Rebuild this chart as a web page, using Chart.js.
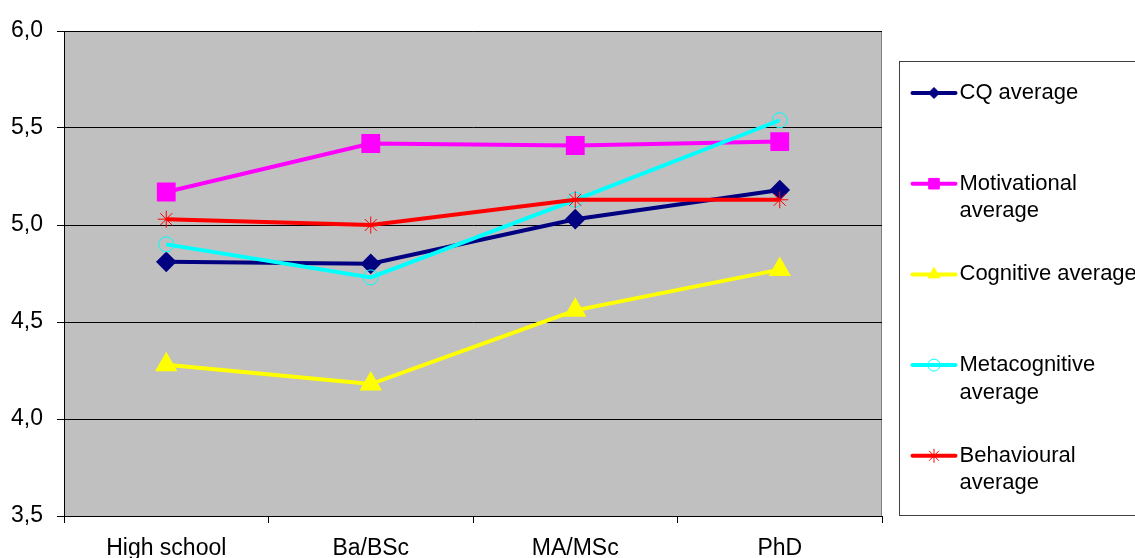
<!DOCTYPE html>
<html>
<head>
<meta charset="utf-8">
<script src="https://cdn.jsdelivr.net/npm/chart.js@4/dist/chart.umd.min.js"></script>
<style>
  html, body { margin: 0; padding: 0; background: #ffffff; }
  #wrap { width: 1135px; height: 558px; overflow: hidden; }
</style>
</head>
<body>
<div id="wrap"><canvas id="c" width="1135" height="558"></canvas></div>
<script>
// Education levels and the average scores per dimension
const categories = ['High school', 'Ba/BSc', 'MA/MSc', 'PhD'];
const cqAverage = [4.81, 4.80, 5.03, 5.18];
const motivationalAverage = [5.17, 5.42, 5.41, 5.43];
const cognitiveAverage = [4.28, 4.18, 4.56, 4.77];
const metacognitiveAverage = [4.90, 4.73, 5.13, 5.54];
const behaviouralAverage = [5.03, 5.00, 5.13, 5.13];
const yTicks = [3.5, 4.0, 4.5, 5.0, 5.5, 6.0];

const FONT = '"Liberation Sans", Arial, sans-serif';

function series(lines, data, color, style, extra) {
  return Object.assign({
    label: lines.join(' '),
    legendLines: lines,
    data: data,
    borderColor: color,
    backgroundColor: color,
    pointBackgroundColor: color,
    pointBorderColor: color,
    borderWidth: 4,
    pointStyle: style,
    pointRadius: 7,
    pointHoverRadius: 7,
    tension: 0,
    fill: false
  }, extra || {});
}

const datasets = [
  series(['CQ average'], cqAverage, '#000080', 'rectRot', { pointRadius: 7.5, legendRadius: 5.5, order: 5 }),
  series(['Motivational', 'average'], motivationalAverage, '#FF00FF', 'rect', { pointRadius: 10.5, legendRadius: 7.5, order: 4 }),
  series(['Cognitive average'], cognitiveAverage, '#FFFF00', 'triangle', { pointRadius: 9, legendRadius: 7, order: 3 }),
  series(['Metacognitive', 'average'], metacognitiveAverage, '#00FFFF', 'circle',
         { pointRadius: 7.5, legendRadius: 6, pointBackgroundColor: 'rgba(0,0,0,0)', pointBorderWidth: 1, order: 2 }),
  series(['Behavioural', 'average'], behaviouralAverage, '#FF0000', 'star',
         { pointRadius: 8.5, legendRadius: 7, pointBorderWidth: 1, order: 1 })
];

// Grey plot area with a thin frame
const plotBackground = {
  id: 'plotBackground',
  beforeDraw(chart) {
    const { ctx, chartArea: a } = chart;
    ctx.save();
    ctx.fillStyle = '#C0C0C0';
    ctx.fillRect(a.left, a.top, a.right - a.left, a.bottom - a.top);
    ctx.strokeStyle = '#808080';
    ctx.lineWidth = 1;
    ctx.strokeRect(a.left + 0.5, a.top + 0.5, a.right - a.left - 1, a.bottom - a.top);
    ctx.restore();
  }
};

// Boxed legend on the right with wrapped labels
const boxLegend = {
  id: 'boxLegend',
  afterDraw(chart) {
    const ctx = chart.ctx;
    const a = chart.chartArea;
    const boxLeft = a.right + 17.5;
    const boxTop = 61.5;
    const boxBottom = 515.5;
    ctx.save();
    ctx.fillStyle = '#ffffff';
    ctx.fillRect(boxLeft, boxTop, 1200 - boxLeft, boxBottom - boxTop);
    ctx.strokeStyle = '#404040';
    ctx.lineWidth = 1;
    ctx.strokeRect(boxLeft, boxTop, 1200 - boxLeft, boxBottom - boxTop);

    const rowStart = 93;
    const rowStep = 90.7;
    const lineStep = 27.5;
    chart.data.datasets.forEach((ds, i) => {
      const y = rowStart + i * rowStep;
      const x0 = boxLeft + 13;
      const x1 = boxLeft + 56;
      ctx.strokeStyle = ds.borderColor;
      ctx.lineWidth = 4;
      ctx.lineCap = 'round';
      ctx.beginPath();
      ctx.moveTo(x0, y);
      ctx.lineTo(x1, y);
      ctx.stroke();
      ctx.lineCap = 'butt';
      ctx.fillStyle = ds.pointBackgroundColor;
      ctx.strokeStyle = ds.pointBorderColor;
      ctx.lineWidth = ds.pointBorderWidth || 1;
      Chart.helpers.drawPoint(ctx, {
        pointStyle: ds.pointStyle,
        radius: ds.legendRadius,
        rotation: 0,
        borderWidth: ds.pointBorderWidth || 1
      }, (x0 + x1) / 2, y);
      ctx.fillStyle = '#000000';
      ctx.font = '22px ' + FONT;
      ctx.textAlign = 'left';
      ctx.textBaseline = 'middle';
      ds.legendLines.forEach((t, k) => {
        ctx.fillText(t, x1 + 4, y + k * lineStep);
      });
    });
    ctx.restore();
  }
};

new Chart(document.getElementById('c'), {
  type: 'line',
  data: { labels: categories, datasets: datasets },
  options: {
    responsive: false,
    animation: false,
    devicePixelRatio: 1,
    layout: { padding: { top: 31, right: 253, left: 0, bottom: 0 } },
    plugins: {
      legend: { display: false },
      tooltip: { enabled: false }
    },
    scales: {
      x: {
        offset: true,
        grid: {
          offset: true,
          drawOnChartArea: false,
          drawTicks: true,
          tickLength: 7,
          color: '#000000'
        },
        border: { color: '#000000', width: 1 },
        ticks: {
          color: '#000000',
          font: { family: FONT, size: 23 },
          padding: 12,
          maxRotation: 0
        },
        afterFit(scale) { scale.height = 42; }
      },
      y: {
        min: 3.5,
        max: 6.0,
        afterBuildTicks(scale) { scale.ticks = yTicks.map(v => ({ value: v })); },
        grid: {
          color: '#000000',
          lineWidth: 1,
          tickLength: 7,
          drawTicks: true
        },
        border: { color: '#000000', width: 1 },
        ticks: {
          color: '#000000',
          font: { family: FONT, size: 23 },
          padding: 14,
          callback: v => Number(v).toFixed(1).replace('.', ',')
        },
        afterFit(scale) { scale.width = 64; }
      }
    }
  },
  plugins: [plotBackground, boxLegend]
});
</script>
</body>
</html>
